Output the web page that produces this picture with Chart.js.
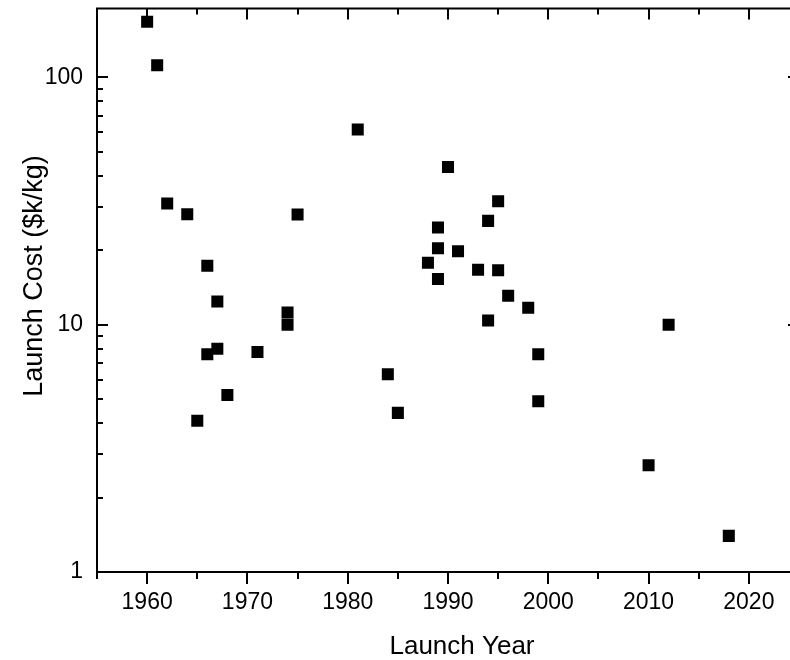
<!DOCTYPE html>
<html>
<head>
<meta charset="utf-8">
<script src="https://cdn.jsdelivr.net/npm/chart.js@4"></script>
<style>
  html, body { margin: 0; padding: 0; overflow: hidden; background: #fff; }
</style>
</head>
<body>
<canvas id="myChart" width="830" height="660"></canvas>
<script>
(function() {
  'use strict';

  // Launch year / cost pairs
  const launchYears = [1960, 1961, 1962, 1964, 1965, 1966, 1966, 1967, 1967, 1968,
    1971, 1974, 1974, 1975, 1981, 1984, 1985, 1988, 1989, 1989,
    1989, 1990, 1991, 1993, 1994, 1994, 1995, 1995, 1996, 1998,
    1999, 1999, 2010, 2012, 2018];
  const launchCosts = [168, 112, 30.9, 28.0, 4.09, 17.3, 7.6, 12.4, 8.0, 5.2,
    7.75, 11.2, 10.0, 27.9, 61.6, 6.3, 4.4, 17.8, 24.7, 20.4,
    15.3, 43.4, 19.8, 16.7, 26.3, 10.4, 31.6, 16.6, 13.1, 11.7,
    7.6, 4.9, 2.7, 10.0, 1.4];

  const xTicks = [1955, 1960, 1965, 1970, 1975, 1980, 1985, 1990, 1995, 2000,
    2005, 2010, 2015, 2020, 2025];
  const yTicks = [1, 2, 3, 4, 5, 6, 7, 8, 9, 10, 20, 30, 40, 50, 60, 70, 80, 90, 100];
  const yLabels = [1, 10, 100];

  const xTitle = 'Launch Year';
  const yTitle = 'Launch Cost ($k/kg)';
  const FONT = '"Liberation Sans", Arial, sans-serif';

  const points = launchYears.map(function(yr, i) {
    return { x: yr, y: launchCosts[i] };
  });

  // Origin style frame: inward ticks on left/top/right, outward on bottom
  const frameAxes = {
    id: 'frameAxes',
    afterDraw(chart) {
      const ctx = chart.ctx;
      const a = chart.chartArea;
      const x = chart.scales.x;
      const y = chart.scales.y;
      ctx.save();
      ctx.strokeStyle = '#000';
      ctx.lineWidth = 2;
      ctx.beginPath();
      ctx.rect(a.left, a.top, a.right - a.left, a.bottom - a.top);
      xTicks.forEach(function(v) {
        const px = Math.round(x.getPixelForValue(v));
        const major = v % 10 === 0;
        ctx.moveTo(px, a.bottom);
        ctx.lineTo(px, a.bottom + (major ? 12 : 7));
        ctx.moveTo(px, a.top);
        ctx.lineTo(px, a.top + (major ? 11 : 6));
      });
      yTicks.forEach(function(v) {
        const py = Math.round(y.getPixelForValue(v));
        const len = yLabels.indexOf(v) >= 0 ? 11 : 6;
        ctx.moveTo(a.left, py);
        ctx.lineTo(a.left + len, py);
        ctx.moveTo(a.right, py);
        ctx.lineTo(a.right - len, py);
      });
      ctx.stroke();

      ctx.fillStyle = '#000';
      ctx.textAlign = 'center';
      ctx.textBaseline = 'alphabetic';
      ctx.font = '26px ' + FONT;
      ctx.fillText(xTitle, 462, 654);
      ctx.font = '27px ' + FONT;
      ctx.translate(42, 276);
      ctx.rotate(-Math.PI / 2);
      ctx.fillText(yTitle, 0, 0);
      ctx.restore();
    }
  };

  const chart = document.getElementById('myChart');
  new Chart(chart, {
    type: 'scatter',
    data: {
      datasets: [
        {
          data: points,
          pointStyle: 'rect',
          pointRadius: 8.5,
          pointHoverRadius: 8.5,
          borderWidth: 0,
          backgroundColor: '#000',
          borderColor: '#000'
        }
      ]
    },
    options: {
      responsive: false,
      animation: false,
      devicePixelRatio: 1,
      layout: {
        padding: { left: 0, top: 6, right: 31, bottom: 0 }
      },
      plugins: {
        legend: { display: false },
        tooltip: { enabled: false }
      },
      scales: {
        x: {
          type: 'linear',
          min: 1955,
          max: 2025,
          grid: { display: false, drawTicks: false },
          border: { display: false },
          afterBuildTicks: function(scale) {
            scale.ticks = xTicks.map(function(v) { return { value: v }; });
          },
          afterFit: function(scale) {
            scale.height = 88;
            scale.paddingLeft = 0;
            scale.paddingRight = 0;
          },
          ticks: {
            padding: 17,
            autoSkip: false,
            maxRotation: 0,
            color: '#000',
            font: { family: FONT, size: 23 },
            callback: function(v) { return v % 10 === 0 ? String(v) : ''; }
          }
        },
        y: {
          type: 'logarithmic',
          min: 1,
          max: 190,
          grid: { display: false, drawTicks: false },
          border: { display: false },
          afterBuildTicks: function(scale) {
            scale.ticks = yTicks.map(function(v) { return { value: v }; });
          },
          afterFit: function(scale) {
            scale.width = 97;
            scale.paddingTop = 0;
            scale.paddingBottom = 0;
          },
          ticks: {
            padding: 14,
            autoSkip: false,
            color: '#000',
            font: { family: FONT, size: 23 },
            callback: function(v) { return yLabels.indexOf(v) >= 0 ? String(v) : ''; }
          }
        }
      }
    },
    plugins: [frameAxes]
  });
})();
</script>
</body>
</html>
